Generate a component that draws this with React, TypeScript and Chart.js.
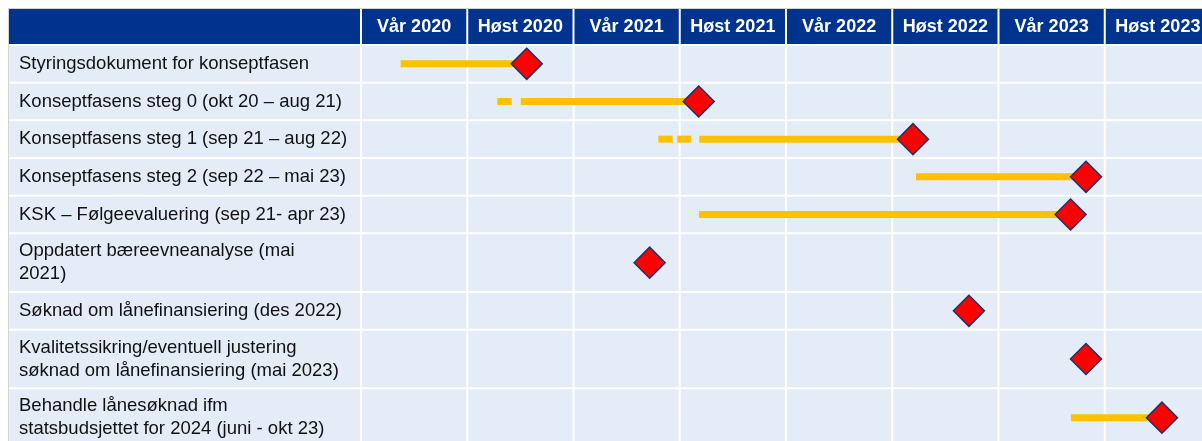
import React, { useEffect, useRef } from "react";
import { Chart, registerables } from "chart.js";

Chart.register(...registerables);

// ---- data ----
const semesterLabels: string[] = [
  "Vår 2020",
  "Høst 2020",
  "Vår 2021",
  "Høst 2021",
  "Vår 2022",
  "Høst 2022",
  "Vår 2023",
  "Høst 2023",
];

const taskLabels: string[][] = [
  ["Styringsdokument for konseptfasen"],
  ["Konseptfasens steg 0 (okt 20 – aug 21)"],
  ["Konseptfasens steg 1 (sep 21 – aug 22)"],
  ["Konseptfasens steg 2 (sep 22 – mai 23)"],
  ["KSK – Følgeevaluering (sep 21- apr 23)"],
  ["Oppdatert bæreevneanalyse (mai", "2021)"],
  ["Søknad om lånefinansiering (des 2022)"],
  ["Kvalitetssikring/eventuell justering", "søknad om lånefinansiering (mai 2023)"],
  ["Behandle lånesøknad ifm", "statsbudsjettet for 2024 (juni - okt 23)"],
];

// time in months counted from the start of January 2020
const barStart: (number | null)[] = [2.24, 9.02, 19.1, 31.34, 19.09, null, null, null, 40.09];
const milestone: number[] = [9.36, 19.07, 31.17, 40.94, 40.07, 16.3, 34.33, 40.94, 45.23];

// dashed lead-in pieces before some bars
const dashRow: number[] = [1, 2, 2];
const dashFrom: number[] = [7.7, 16.79, 17.86];
const dashTo: number[] = [8.51, 17.6, 18.65];

const monthsTotal = 48;
const monthsPerSemester = 6;

// ---- layout constants ----
const ROW_PAD = 16.67;
const LINE_H = 21;
const W = 1203;
const H = 440;

const HEADER_BLUE = "#00338D";
const CELL_BLUE = "#E3ECF7";
const BAR_YELLOW = "#FFC000";
const FONT = "'Liberation Sans', Arial, sans-serif";

export default function App() {
  const ref = useRef<HTMLCanvasElement | null>(null);

  useEffect(() => {
    document.documentElement.style.overflow = "hidden";
    const canvas = ref.current;
    if (!canvas) return;

    const rowHeights = taskLabels.map((l) => ROW_PAD + LINE_H * l.length);
    const bounds: number[] = [0];
    rowHeights.forEach((h, i) => bounds.push(bounds[i] + h));
    const centers = rowHeights.map((h, i) => bounds[i] + h / 2);
    const yMax = bounds[bounds.length - 1];

    const colBounds: number[] = [];
    for (let m = 0; m <= monthsTotal; m += monthsPerSemester) colBounds.push(m);
    const colCenters = semesterLabels.map((_, i) => i * monthsPerSemester + monthsPerSemester / 2);

    const datasets: any[] = [];
    datasets.push({
      type: "scatter",
      label: "milestones",
      data: milestone.map((m, i) => ({ x: m, y: centers[i] })),
      pointStyle: "rectRot",
      pointRadius: 15.5,
      pointHoverRadius: 15.5,
      backgroundColor: "#FF0000",
      borderColor: "#1F3166",
      borderWidth: 1.5,
      order: 0,
      clip: false,
    });
    barStart.forEach((s, i) => {
      if (s === null) return;
      datasets.push({
        type: "line",
        label: "bar" + i,
        data: [
          { x: s, y: centers[i] },
          { x: milestone[i], y: centers[i] },
        ],
        borderColor: BAR_YELLOW,
        borderWidth: 7,
        borderCapStyle: "butt",
        pointRadius: 0,
        showLine: true,
        order: 1,
        clip: false,
      });
    });
    dashRow.forEach((r, k) => {
      datasets.push({
        type: "line",
        label: "dash" + k,
        data: [
          { x: dashFrom[k], y: centers[r] },
          { x: dashTo[k], y: centers[r] },
        ],
        borderColor: BAR_YELLOW,
        borderWidth: 7,
        borderCapStyle: "butt",
        pointRadius: 0,
        showLine: true,
        order: 1,
        clip: false,
      });
    });

    const tablePlugin = {
      id: "tableBg",
      beforeDraw(chart: any) {
        const { ctx, chartArea, scales } = chart;
        const xs = scales.x;
        const ys = scales.y;
        const cw = chart.width;
        const ch = chart.height;
        ctx.save();
        ctx.fillStyle = "#D4D4D4";
        ctx.fillRect(0, 0, cw, 1);
        ctx.fillRect(0, 0, 1, ch);
        ctx.fillStyle = CELL_BLUE;
        ctx.fillRect(1, 1, cw - 1, ch - 1);
        ctx.fillStyle = HEADER_BLUE;
        ctx.fillRect(1, 1, cw - 1, chartArea.top - 1);
        ctx.strokeStyle = "#FFFFFF";
        ctx.lineWidth = 2;
        bounds.forEach((b) => {
          const y = ys.getPixelForValue(b);
          ctx.beginPath();
          ctx.moveTo(1, y);
          ctx.lineTo(cw, y);
          ctx.stroke();
        });
        colBounds.forEach((m) => {
          const x = xs.getPixelForValue(m);
          ctx.beginPath();
          ctx.moveTo(x, 1);
          ctx.lineTo(x, ch);
          ctx.stroke();
        });
        ctx.restore();
      },
    };

    const zeroPad = (scale: any) => {
      scale.paddingTop = 0;
      scale.paddingBottom = 0;
      scale.paddingLeft = 0;
      scale.paddingRight = 0;
    };

    const chart = new Chart(canvas, {
      type: "scatter",
      data: { datasets },
      options: {
        responsive: false,
        animation: false,
        devicePixelRatio: 1,
        layout: { autoPadding: false, padding: { left: 11, top: 1, right: 0, bottom: 1 } },
        plugins: {
          legend: { display: false },
          tooltip: { enabled: false },
        },
        events: [],
        scales: {
          x: {
            type: "linear",
            position: "top",
            min: 0,
            max: monthsTotal,
            grid: { display: false, drawTicks: false },
            border: { display: false },
            afterBuildTicks: (scale: any) => {
              scale.ticks = colCenters.map((v) => ({ value: v }));
            },
            afterFit: (scale: any) => {
              scale.height = 36;
              zeroPad(scale);
            },
            ticks: {
              autoSkip: false,
              maxRotation: 0,
              padding: 7,
              color: "#FFFFFF",
              font: { family: FONT, size: 18, weight: "bold" },
              callback: (_v: any, i: number) => semesterLabels[i],
            },
          },
          y: {
            type: "linear",
            reverse: true,
            min: 0,
            max: yMax,
            grid: { display: false, drawTicks: false },
            border: { display: false },
            afterBuildTicks: (scale: any) => {
              scale.ticks = centers.map((v) => ({ value: v }));
            },
            afterFit: (scale: any) => {
              scale.width = 342;
              zeroPad(scale);
            },
            ticks: {
              autoSkip: false,
              crossAlign: "far",
              color: "#111111",
              font: { family: FONT, size: 18.5, lineHeight: 1.25 },
              callback: (_v: any, i: number) => taskLabels[i],
            },
          },
        },
      } as any,
      plugins: [tablePlugin],
    });

    return () => chart.destroy();
  }, []);

  return (
    <div
      style={{
        position: "fixed",
        left: 0,
        top: 0,
        width: "100vw",
        height: "100vh",
        overflow: "hidden",
        background: "#FFFFFF",
      }}
    >
      <canvas
        ref={ref}
        width={W}
        height={H}
        style={{ display: "block", width: W, height: H, marginLeft: 8, marginTop: 8 }}
      />
    </div>
  );
}
